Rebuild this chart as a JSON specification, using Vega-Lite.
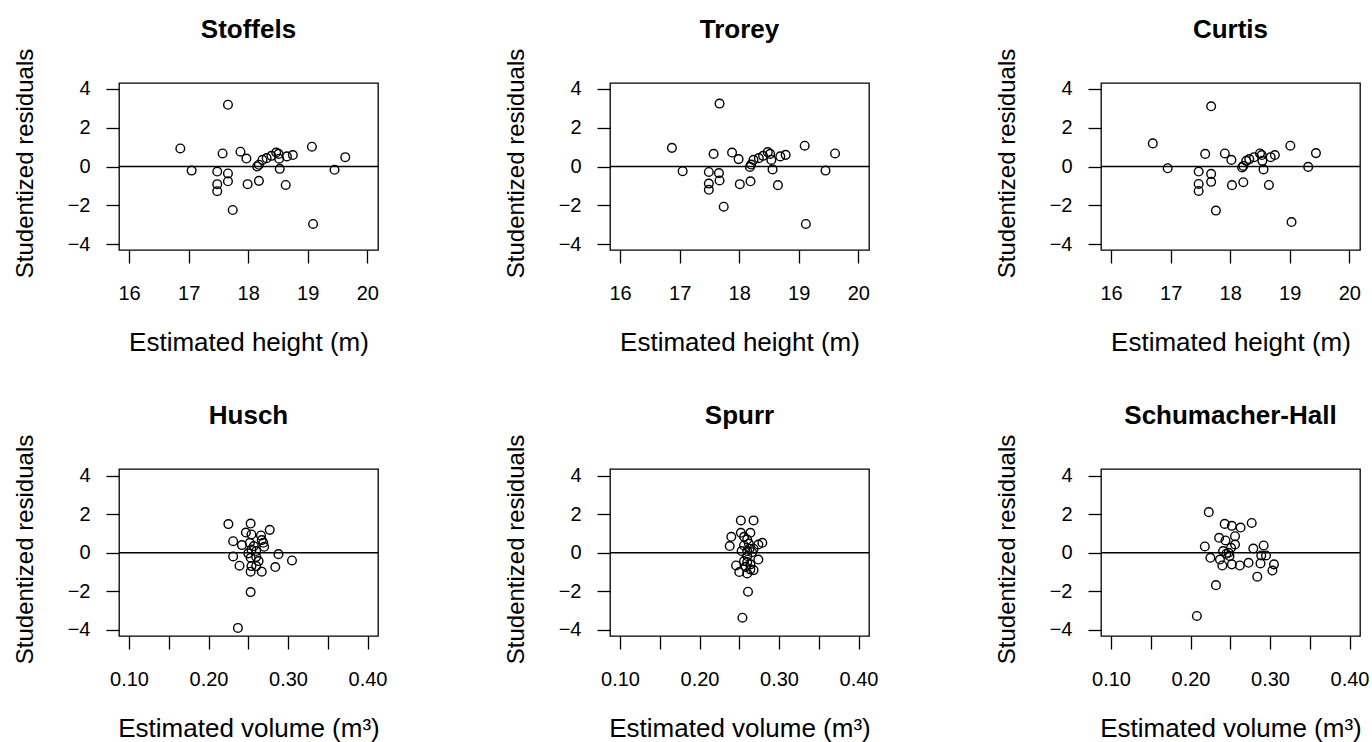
{
  "$schema": "https://vega.github.io/schema/vega-lite/v6.json",
  "background": "white",
  "padding": {"left": 12, "top": 16, "right": 5, "bottom": 5},
  "datasets": {
    "Stoffels": [
      {"fitted":17.66,"resid":3.18},{"fitted":16.86,"resid":0.93},{"fitted":17.05,"resid":-0.21},{"fitted":17.48,"resid":-0.26},{"fitted":17.57,"resid":0.67},{"fitted":17.66,"resid":-0.36},{"fitted":17.66,"resid":-0.76},{"fitted":17.48,"resid":-0.91},{"fitted":17.48,"resid":-1.27},{"fitted":17.74,"resid":-2.24},{"fitted":17.87,"resid":0.76},{"fitted":17.97,"resid":0.41},{"fitted":17.99,"resid":-0.91},{"fitted":18.15,"resid":0.0},{"fitted":18.18,"resid":0.09},{"fitted":18.18,"resid":-0.74},{"fitted":18.24,"resid":0.34},{"fitted":18.31,"resid":0.43},{"fitted":18.39,"resid":0.55},{"fitted":18.47,"resid":0.72},{"fitted":18.51,"resid":0.65},{"fitted":18.52,"resid":0.40},{"fitted":18.53,"resid":-0.12},{"fitted":18.65,"resid":0.52},{"fitted":18.75,"resid":0.59},{"fitted":18.63,"resid":-0.95},{"fitted":19.07,"resid":1.02},{"fitted":19.09,"resid":-2.96},{"fitted":19.45,"resid":-0.17},{"fitted":19.63,"resid":0.48}
    ],
    "Trorey": [
      {"fitted":17.67,"resid":3.24},{"fitted":16.87,"resid":0.96},{"fitted":17.05,"resid":-0.24},{"fitted":17.49,"resid":-0.28},{"fitted":17.57,"resid":0.65},{"fitted":17.66,"resid":-0.34},{"fitted":17.67,"resid":-0.72},{"fitted":17.49,"resid":-0.88},{"fitted":17.49,"resid":-1.20},{"fitted":17.74,"resid":-2.07},{"fitted":17.88,"resid":0.72},{"fitted":17.99,"resid":0.38},{"fitted":18.01,"resid":-0.91},{"fitted":18.18,"resid":-0.02},{"fitted":18.20,"resid":0.10},{"fitted":18.19,"resid":-0.76},{"fitted":18.24,"resid":0.34},{"fitted":18.33,"resid":0.43},{"fitted":18.40,"resid":0.55},{"fitted":18.48,"resid":0.74},{"fitted":18.52,"resid":0.65},{"fitted":18.54,"resid":0.34},{"fitted":18.56,"resid":-0.15},{"fitted":18.69,"resid":0.52},{"fitted":18.78,"resid":0.60},{"fitted":18.65,"resid":-0.96},{"fitted":19.10,"resid":1.07},{"fitted":19.12,"resid":-2.96},{"fitted":19.45,"resid":-0.21},{"fitted":19.61,"resid":0.67}
    ],
    "Curtis": [
      {"fitted":17.68,"resid":3.10},{"fitted":16.70,"resid":1.19},{"fitted":16.95,"resid":-0.09},{"fitted":17.47,"resid":-0.26},{"fitted":17.58,"resid":0.65},{"fitted":17.68,"resid":-0.38},{"fitted":17.68,"resid":-0.79},{"fitted":17.47,"resid":-0.90},{"fitted":17.47,"resid":-1.26},{"fitted":17.76,"resid":-2.27},{"fitted":17.91,"resid":0.67},{"fitted":18.02,"resid":0.34},{"fitted":18.03,"resid":-0.96},{"fitted":18.20,"resid":-0.05},{"fitted":18.22,"resid":0.03},{"fitted":18.22,"resid":-0.81},{"fitted":18.27,"resid":0.29},{"fitted":18.32,"resid":0.38},{"fitted":18.40,"resid":0.48},{"fitted":18.50,"resid":0.67},{"fitted":18.53,"resid":0.59},{"fitted":18.54,"resid":0.29},{"fitted":18.56,"resid":-0.15},{"fitted":18.68,"resid":0.48},{"fitted":18.75,"resid":0.59},{"fitted":18.65,"resid":-0.95},{"fitted":19.01,"resid":1.07},{"fitted":19.03,"resid":-2.86},{"fitted":19.31,"resid":-0.02},{"fitted":19.44,"resid":0.69}
    ],
    "Husch": [
      {"fitted":0.225,"resid":1.49},{"fitted":0.253,"resid":1.52},{"fitted":0.277,"resid":1.19},{"fitted":0.247,"resid":1.05},{"fitted":0.254,"resid":0.95},{"fitted":0.266,"resid":0.90},{"fitted":0.231,"resid":0.60},{"fitted":0.242,"resid":0.40},{"fitted":0.252,"resid":0.52},{"fitted":0.269,"resid":0.52},{"fitted":0.270,"resid":0.31},{"fitted":0.254,"resid":0.17},{"fitted":0.260,"resid":0.09},{"fitted":0.231,"resid":-0.19},{"fitted":0.288,"resid":-0.07},{"fitted":0.305,"resid":-0.40},{"fitted":0.253,"resid":-0.26},{"fitted":0.260,"resid":-0.21},{"fitted":0.263,"resid":-0.43},{"fitted":0.239,"resid":-0.67},{"fitted":0.254,"resid":-0.69},{"fitted":0.260,"resid":-0.69},{"fitted":0.284,"resid":-0.74},{"fitted":0.253,"resid":-0.98},{"fitted":0.267,"resid":-0.98},{"fitted":0.253,"resid":-2.04},{"fitted":0.237,"resid":-3.90},{"fitted":0.250,"resid":-0.03},{"fitted":0.257,"resid":0.35},{"fitted":0.267,"resid":0.66}
    ],
    "Spurr": [
      {"fitted":0.252,"resid":1.68},{"fitted":0.268,"resid":1.68},{"fitted":0.252,"resid":1.04},{"fitted":0.264,"resid":1.04},{"fitted":0.240,"resid":0.83},{"fitted":0.256,"resid":0.83},{"fitted":0.260,"resid":0.69},{"fitted":0.238,"resid":0.35},{"fitted":0.262,"resid":0.48},{"fitted":0.274,"resid":0.43},{"fitted":0.279,"resid":0.52},{"fitted":0.253,"resid":0.09},{"fitted":0.260,"resid":0.09},{"fitted":0.266,"resid":0.03},{"fitted":0.260,"resid":-0.17},{"fitted":0.274,"resid":-0.35},{"fitted":0.246,"resid":-0.66},{"fitted":0.250,"resid":-1.00},{"fitted":0.260,"resid":-0.48},{"fitted":0.264,"resid":-0.60},{"fitted":0.268,"resid":-0.90},{"fitted":0.260,"resid":-1.07},{"fitted":0.261,"resid":-2.02},{"fitted":0.254,"resid":-3.37},{"fitted":0.256,"resid":0.38},{"fitted":0.263,"resid":0.21},{"fitted":0.258,"resid":-0.73},{"fitted":0.264,"resid":-0.86},{"fitted":0.256,"resid":-0.43},{"fitted":0.268,"resid":0.21}
    ],
    "SchumacherHall": [
      {"fitted":0.223,"resid":2.11},{"fitted":0.243,"resid":1.50},{"fitted":0.252,"resid":1.40},{"fitted":0.263,"resid":1.31},{"fitted":0.277,"resid":1.55},{"fitted":0.256,"resid":0.86},{"fitted":0.236,"resid":0.78},{"fitted":0.244,"resid":0.64},{"fitted":0.256,"resid":0.43},{"fitted":0.218,"resid":0.33},{"fitted":0.251,"resid":0.26},{"fitted":0.279,"resid":0.22},{"fitted":0.292,"resid":0.38},{"fitted":0.241,"resid":0.09},{"fitted":0.248,"resid":0.00},{"fitted":0.225,"resid":-0.26},{"fitted":0.237,"resid":-0.35},{"fitted":0.249,"resid":-0.17},{"fitted":0.289,"resid":-0.14},{"fitted":0.295,"resid":-0.14},{"fitted":0.240,"resid":-0.66},{"fitted":0.252,"resid":-0.60},{"fitted":0.262,"resid":-0.66},{"fitted":0.273,"resid":-0.52},{"fitted":0.288,"resid":-0.55},{"fitted":0.305,"resid":-0.60},{"fitted":0.303,"resid":-0.92},{"fitted":0.284,"resid":-1.24},{"fitted":0.232,"resid":-1.68},{"fitted":0.208,"resid":-3.28},{"fitted":0.245,"resid":-0.05}
    ],
    "zero": [{"zero": 0}]
  },
  "columns": 3,
  "spacing": {"row": 219, "column": 232},
  "bounds": "flush",
  "concat": [
    {
      "width": 259, "height": 167,
      "title": {"text": "Stoffels"},
      "layer": [
        {"data": {"name": "Stoffels"}, "mark": {"type": "point", "shape": "circle", "filled": false, "stroke": "black", "strokeWidth": 1.4, "size": 75, "opacity": 1},
         "encoding": {
           "x": {"field": "fitted", "type": "quantitative", "scale": {"domain": [15.83, 20.18], "nice": false, "zero": false}, "axis": {"values": [16,17,18,19,20], "format": "d", "title": "Estimated height (m)"}},
           "y": {"field": "resid", "type": "quantitative", "scale": {"domain": [-4.3, 4.3], "nice": false, "zero": false}, "axis": {"values": [-4,-2,0,2,4], "format": "d", "title": "Studentized residuals"}}}},
        {"data": {"name": "zero"}, "mark": {"type": "rule", "stroke": "black", "strokeWidth": 1.5}, "encoding": {"y": {"field": "zero", "type": "quantitative"}}}
      ]
    },
    {
      "width": 259, "height": 167,
      "title": {"text": "Trorey"},
      "layer": [
        {"data": {"name": "Trorey"}, "mark": {"type": "point", "shape": "circle", "filled": false, "stroke": "black", "strokeWidth": 1.4, "size": 75, "opacity": 1},
         "encoding": {
           "x": {"field": "fitted", "type": "quantitative", "scale": {"domain": [15.83, 20.18], "nice": false, "zero": false}, "axis": {"values": [16,17,18,19,20], "format": "d", "title": "Estimated height (m)"}},
           "y": {"field": "resid", "type": "quantitative", "scale": {"domain": [-4.3, 4.3], "nice": false, "zero": false}, "axis": {"values": [-4,-2,0,2,4], "format": "d", "title": "Studentized residuals"}}}},
        {"data": {"name": "zero"}, "mark": {"type": "rule", "stroke": "black", "strokeWidth": 1.5}, "encoding": {"y": {"field": "zero", "type": "quantitative"}}}
      ]
    },
    {
      "width": 259, "height": 167,
      "title": {"text": "Curtis"},
      "layer": [
        {"data": {"name": "Curtis"}, "mark": {"type": "point", "shape": "circle", "filled": false, "stroke": "black", "strokeWidth": 1.4, "size": 75, "opacity": 1},
         "encoding": {
           "x": {"field": "fitted", "type": "quantitative", "scale": {"domain": [15.83, 20.18], "nice": false, "zero": false}, "axis": {"values": [16,17,18,19,20], "format": "d", "title": "Estimated height (m)"}},
           "y": {"field": "resid", "type": "quantitative", "scale": {"domain": [-4.3, 4.3], "nice": false, "zero": false}, "axis": {"values": [-4,-2,0,2,4], "format": "d", "title": "Studentized residuals"}}}},
        {"data": {"name": "zero"}, "mark": {"type": "rule", "stroke": "black", "strokeWidth": 1.5}, "encoding": {"y": {"field": "zero", "type": "quantitative"}}}
      ]
    },
    {
      "width": 259, "height": 167,
      "title": {"text": "Husch"},
      "layer": [
        {"data": {"name": "Husch"}, "mark": {"type": "point", "shape": "circle", "filled": false, "stroke": "black", "strokeWidth": 1.4, "size": 75, "opacity": 1},
         "encoding": {
           "x": {"field": "fitted", "type": "quantitative", "scale": {"domain": [0.0874, 0.4132], "nice": false, "zero": false}, "axis": {"values": [0.10,0.15,0.20,0.25,0.30,0.35,0.40], "labelExpr": "round(datum.value*100) % 10 === 0 ? format(datum.value, '.2f') : ''", "title": "Estimated volume (m³)"}},
           "y": {"field": "resid", "type": "quantitative", "scale": {"domain": [-4.32, 4.35], "nice": false, "zero": false}, "axis": {"values": [-4,-2,0,2,4], "format": "d", "title": "Studentized residuals"}}}},
        {"data": {"name": "zero"}, "mark": {"type": "rule", "stroke": "black", "strokeWidth": 1.5}, "encoding": {"y": {"field": "zero", "type": "quantitative"}}}
      ]
    },
    {
      "width": 259, "height": 167,
      "title": {"text": "Spurr"},
      "layer": [
        {"data": {"name": "Spurr"}, "mark": {"type": "point", "shape": "circle", "filled": false, "stroke": "black", "strokeWidth": 1.4, "size": 75, "opacity": 1},
         "encoding": {
           "x": {"field": "fitted", "type": "quantitative", "scale": {"domain": [0.0874, 0.4132], "nice": false, "zero": false}, "axis": {"values": [0.10,0.15,0.20,0.25,0.30,0.35,0.40], "labelExpr": "round(datum.value*100) % 10 === 0 ? format(datum.value, '.2f') : ''", "title": "Estimated volume (m³)"}},
           "y": {"field": "resid", "type": "quantitative", "scale": {"domain": [-4.32, 4.35], "nice": false, "zero": false}, "axis": {"values": [-4,-2,0,2,4], "format": "d", "title": "Studentized residuals"}}}},
        {"data": {"name": "zero"}, "mark": {"type": "rule", "stroke": "black", "strokeWidth": 1.5}, "encoding": {"y": {"field": "zero", "type": "quantitative"}}}
      ]
    },
    {
      "width": 259, "height": 167,
      "title": {"text": "Schumacher-Hall"},
      "layer": [
        {"data": {"name": "SchumacherHall"}, "mark": {"type": "point", "shape": "circle", "filled": false, "stroke": "black", "strokeWidth": 1.4, "size": 75, "opacity": 1},
         "encoding": {
           "x": {"field": "fitted", "type": "quantitative", "scale": {"domain": [0.0874, 0.4132], "nice": false, "zero": false}, "axis": {"values": [0.10,0.15,0.20,0.25,0.30,0.35,0.40], "labelExpr": "round(datum.value*100) % 10 === 0 ? format(datum.value, '.2f') : ''", "title": "Estimated volume (m³)"}},
           "y": {"field": "resid", "type": "quantitative", "scale": {"domain": [-4.32, 4.35], "nice": false, "zero": false}, "axis": {"values": [-4,-2,0,2,4], "format": "d", "title": "Studentized residuals"}}}},
        {"data": {"name": "zero"}, "mark": {"type": "rule", "stroke": "black", "strokeWidth": 1.5}, "encoding": {"y": {"field": "zero", "type": "quantitative"}}}
      ]
    }
  ],
  "config": {
    "font": "Liberation Sans",
    "view": {"stroke": "black", "strokeWidth": 1.3},
    "title": {"font": "Liberation Sans", "fontSize": 26, "fontWeight": "bold", "color": "black", "frame": "group", "anchor": "middle", "baseline": "alphabetic", "offset": 5},
    "axis": {"grid": false, "domain": false, "ticks": true, "tickColor": "black", "tickWidth": 1.3, "tickSize": 13, "labelFont": "Liberation Sans", "labelFontSize": 20, "labelColor": "black", "labelFlush": false, "labelOverlap": false, "labelBound": false, "titleFont": "Liberation Sans", "titleFontSize": 24, "titleFontWeight": "normal", "titleColor": "black"},
    "axisX": {"labelPadding": 36, "labelBaseline": "alphabetic", "labelAlign": "center", "titleX": 129.5, "titleY": 100, "titleBaseline": "alphabetic", "titleAlign": "center", "titleAngle": 0, "titleFontSize": 26},
    "axisY": {"labelPadding": 16, "labelAlign": "right", "labelBaseline": "middle", "labelAngle": 0, "titleX": -87, "titleY": 80, "titleAngle": -90, "titleAlign": "center", "titleBaseline": "alphabetic"}
  }
}
